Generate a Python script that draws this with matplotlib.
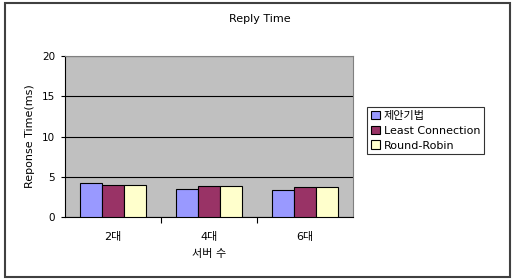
import matplotlib
matplotlib.use('Agg')
import matplotlib.pyplot as plt
import numpy as np
from matplotlib.patches import Rectangle

plt.rcParams['font.family'] = ['DejaVu Sans', 'Noto Sans CJK KR']

# data
categories = ['2대', '4대', '6대']
series_names = ['제안기법', 'Least Connection', 'Round-Robin']
proposed = [4.27, 3.53, 3.40]
least_conn = [4.02, 3.90, 3.78]
round_robin = [4.02, 3.90, 3.78]
colors = ['#9999FF', '#993366', '#FFFFCC']

W, H = 513, 280
fig = plt.figure(figsize=(W / 100, H / 100), dpi=100)

# outer chart border
fig.patches.append(Rectangle((5 / W, 3 / H), 505 / W, 274 / H, transform=fig.transFigure,
                             fill=False, edgecolor='#404040', linewidth=1.5))

ax = fig.add_axes([65 / W, 1 - 217 / H, 288 / W, 161 / H])
ax.set_facecolor('#C0C0C0')

x = np.arange(len(categories))
bw = 0.226
for i, (vals, name) in enumerate(zip([proposed, least_conn, round_robin], series_names)):
    ax.bar(x + (i - 1) * bw, vals, bw, color=colors[i], edgecolor='black',
           linewidth=0.8, label=name, zorder=3)

ax.set_xlim(-0.5, 2.5)
ax.set_ylim(0, 20)
ax.set_yticks([0, 5, 10, 15, 20])
ax.yaxis.grid(True, color='black', linewidth=0.8, zorder=1)
ax.set_axisbelow(True)

ax.set_xticks(x)
ax.set_xticklabels(categories, fontsize=8)
ax.tick_params(axis='x', length=0, pad=11)
ax.set_xticks([0.5, 1.5], minor=True)
ax.tick_params(axis='x', which='minor', length=4, direction='out', width=0.8)
ax.tick_params(axis='y', labelsize=7.5, length=3, width=0.8, pad=4)

for s in ['top', 'right']:
    ax.spines[s].set_color('#808080')
    ax.spines[s].set_linewidth(0.8)
for s in ['left', 'bottom']:
    ax.spines[s].set_color('black')
    ax.spines[s].set_linewidth(0.8)

ax.set_xlabel('서버 수', fontsize=8, labelpad=5)
ax.set_ylabel('Reponse Time(ms)', fontsize=8, labelpad=5)
fig.text(260 / W, 1 - 19 / H, 'Reply Time', fontsize=8, ha='center', va='center')

leg = ax.legend(loc='upper left', bbox_to_anchor=(367 / W, 1 - 107 / H),
                bbox_transform=fig.transFigure, frameon=True,
                fancybox=False, edgecolor='black', handlelength=0.8, handleheight=0.8,
                handletextpad=0.35, borderpad=0.35, labelspacing=0.42, borderaxespad=0,
                prop={'size': 8})
leg.get_frame().set_linewidth(0.8)

fig.savefig('out.png', dpi=100)
